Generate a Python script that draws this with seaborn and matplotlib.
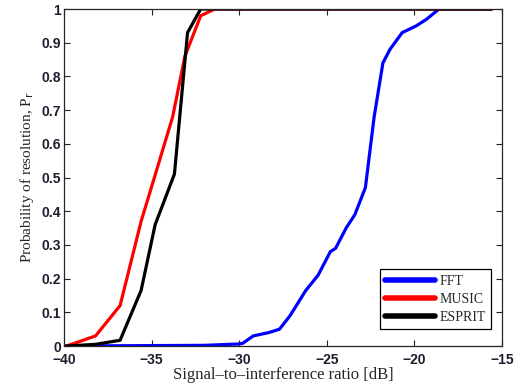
import numpy as np
import pandas as pd
import seaborn as sns
import matplotlib.pyplot as plt

# values
fft_sir = [-40, -32, -30.0, -29.8, -29.2, -28.3, -27.7, -27.1, -26.2, -25.5, -24.8, -24.5,
           -23.9, -23.4, -22.8, -22.3, -21.8, -21.4, -20.7, -19.9, -19.3, -18.6, -15.6]
fft_p = [0, 0.002, 0.006, 0.008, 0.03, 0.04, 0.05, 0.09, 0.165, 0.21, 0.28, 0.29,
         0.35, 0.39, 0.47, 0.68, 0.84, 0.88, 0.93, 0.95, 0.97, 1.0, 1.0]

music_sir = [-39.85, -38.2, -36.8, -35.6, -34.9, -33.8, -33.1, -32.2, -31.4, -15.6]
music_p = [0, 0.03, 0.12, 0.37, 0.49, 0.68, 0.86, 0.98, 1.0, 1.0]

esprit_sir = [-39.85, -38.2, -36.8, -35.6, -34.8, -33.7, -32.95, -32.2, -15.6]
esprit_p = [0, 0.005, 0.017, 0.165, 0.36, 0.51, 0.93, 1.0, 1.0]

names = ['FFT', 'MUSIC', 'ESPRIT']
colors = ['#0000ff', '#ff0000', '#000000']

df = pd.concat([
    pd.DataFrame({'sir': fft_sir, 'p': fft_p, 'method': 'FFT'}),
    pd.DataFrame({'sir': music_sir, 'p': music_p, 'method': 'MUSIC'}),
    pd.DataFrame({'sir': esprit_sir, 'p': esprit_p, 'method': 'ESPRIT'}),
])

sns.set_style('ticks')
fig = plt.figure(figsize=(5.18, 3.86), dpi=100)
ax = fig.add_axes([0.1236, 0.1036, 0.8456, 0.873])

sns.lineplot(data=df, x='sir', y='p', hue='method', hue_order=names,
             palette=colors, linewidth=2.3, sort=False, estimator=None, ax=ax)

ax.set_xlim(-40, -15)
ax.set_ylim(0, 1)
ax.set_xticks(np.arange(-40, -14, 5))
ax.set_yticks(np.arange(0, 1.01, 0.1))
ax.set_yticklabels(['0'] + [f'{v:.1f}' for v in np.arange(0.1, 0.95, 0.1)] + ['1'])
ax.set_xticklabels(['\u221240', '\u221235', '\u221230', '\u221225', '\u221220', '\u221215'])
ax.tick_params(direction='in', top=True, right=True, length=4, width=0.8,
               labelsize=10, colors='#1e1e30', pad=2)
ax.tick_params(axis='x', pad=5)
for lab in ax.get_xticklabels() + ax.get_yticklabels():
    lab.set_fontfamily('Liberation Sans')
    lab.set_fontweight('bold')
for s in ax.spines.values():
    s.set_linewidth(0.9)

ax.set_xlabel('Signal\u2013to\u2013interference ratio [dB]', fontfamily='Liberation Serif',
              fontsize=12, labelpad=0)
ax.set_ylabel('Probability of resolution, P$_{\\rm r}$', fontfamily='Liberation Serif',
              fontsize=11, labelpad=4)

leg = ax.legend(loc='lower right', bbox_to_anchor=(0.975, 0.05), borderaxespad=0,
                fancybox=False, edgecolor='black', framealpha=1,
                prop={'family': 'Liberation Serif', 'size': 10},
                handlelength=3.6, handletextpad=0.3, labelspacing=0.35)
leg.get_frame().set_linewidth(0.9)
for line in leg.get_lines():
    line.set_linewidth(4)

fig.savefig('out.png', dpi=100)
